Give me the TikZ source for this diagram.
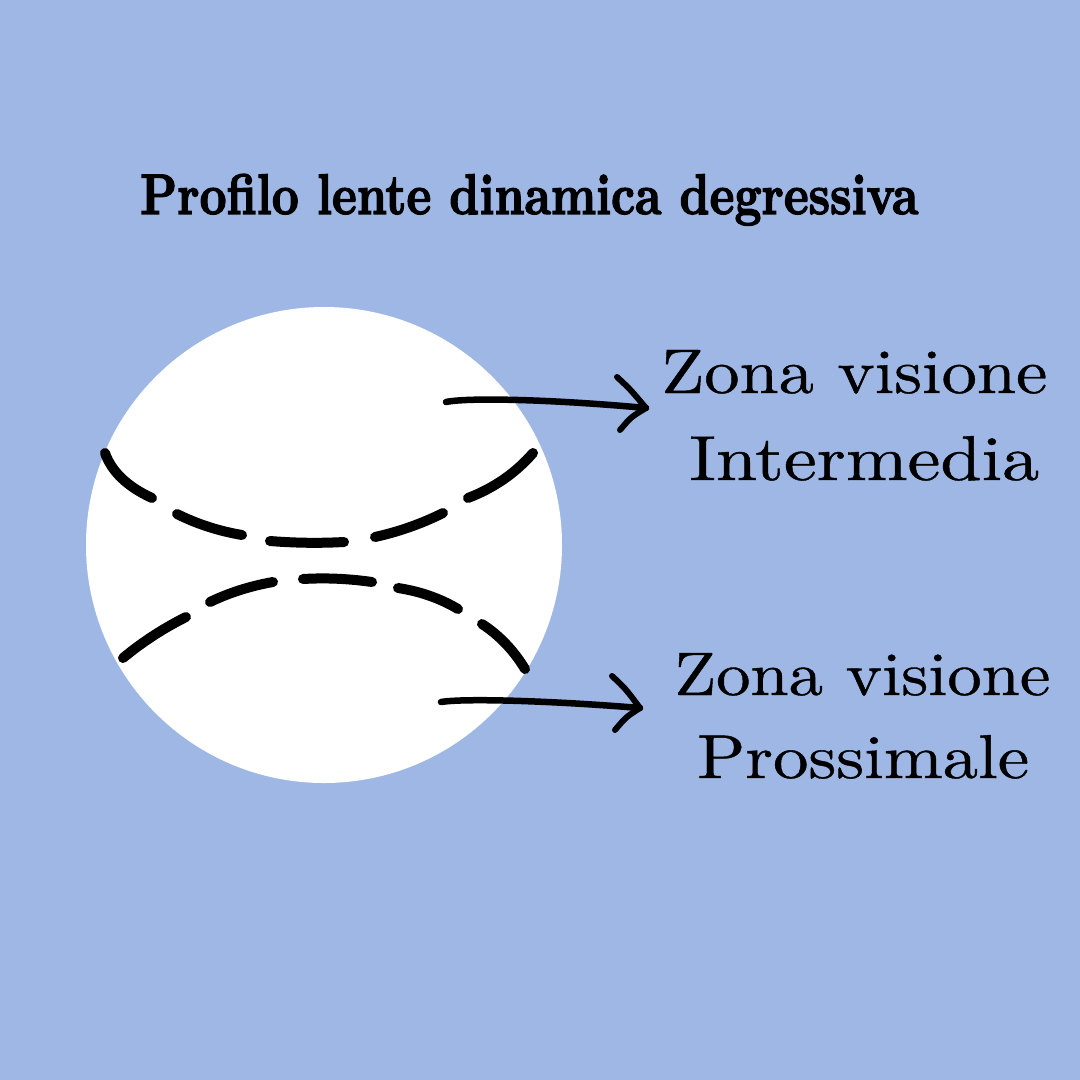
\documentclass[tikz,border=0pt]{standalone}
\usepackage{graphicx}
\usepackage{fontspec}
\usetikzlibrary{calc}
\newfontfamily\titlefont{Latin Modern Roman}[BoldFeatures={FakeBold=2.4}]
\newfontfamily\zonefont{Latin Modern Roman}[FakeBold=0.6]
\definecolor{bgblue}{RGB}{158,183,228}
\newcommand\qdash[3]{\draw[lensdash] (#1) .. controls ($(#1)!0.6667!(#2)$) and ($(#3)!0.6667!(#2)$) .. (#3);}
\begin{document}
\begin{tikzpicture}[x=1pt,y=-1pt,
  lensdash/.style={line width=10pt,line cap=round,black},
  arrowline/.style={line width=6.5pt,line cap=round,black},
  headline/.style={line width=6pt,line cap=round,black},
  zonetext/.style={inner sep=0pt,anchor=base west,text=black,font=\zonefont}]
% background
\fill[bgblue] (0,0) rectangle (1080,1080);
\useasboundingbox (0,0) rectangle (1080,1080);
% lens
\fill[white] (324,545) circle[radius=238pt];
% title
\node[zonetext] (title) at (140,214) {\resizebox{778pt}{40pt}{\titlefont\bfseries Profilo lente dinamica degressiva}};
% upper dashed curve
\qdash{105,453}{115,481}{152,498}
\qdash{177,514}{207,529}{242,535}
\qdash{270,541}{307,544}{344,542}
\qdash{375,537}{411,529}{443,513}
\qdash{468,498}{507,483}{533,453}
% lower dashed curve
\qdash{123,658}{152,634}{186,617}
\qdash{210,602}{239,588}{273,582}
\qdash{303,579}{337,577}{372,582}
\qdash{398,588}{431,593}{458,609}
\qdash{482,624}{508,641}{525,669}
% labels
\node[zonetext] (l1a) at (661,393) {\resizebox{386pt}{43pt}{Zona visione}};
\node[zonetext] (l1b) at (689,480) {\resizebox{350pt}{44pt}{Intermedia}};
\node[zonetext] (l2a) at (674,695) {\resizebox{376pt}{42pt}{Zona visione}};
\node[zonetext] (l2b) at (697,778) {\resizebox{332pt}{43pt}{Prossimale}};
% arrows
\coordinate (a1s) at (446,402);
\coordinate (a1t) at (646,408);
\coordinate (a1u) at (617,377);
\coordinate (a1d) at (620,430);
\coordinate (a2s) at (441,702);
\coordinate (a2t) at (640,708);
\coordinate (a2u) at (612,676);
\coordinate (a2d) at (615,730);
\draw[arrowline] (a1s) .. controls (470,397) and (560,400) .. (a1t);
\draw[headline] (a1u) .. controls (630,389) .. (a1t);
\draw[headline] (a1d) .. controls (631,417) .. (a1t);
\draw[arrowline] (a2s) .. controls (465,698) and (555,701) .. (a2t);
\draw[headline] (a2u) .. controls (625,688) .. (a2t);
\draw[headline] (a2d) .. controls (626,717) .. (a2t);
\end{tikzpicture}
\end{document}
